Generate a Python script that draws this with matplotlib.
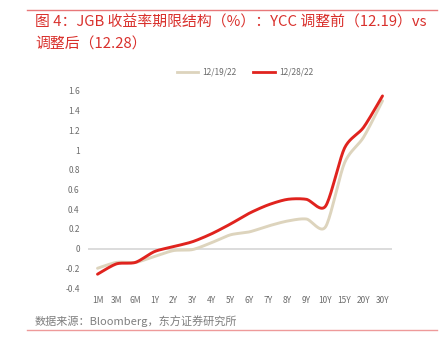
import numpy as np
import matplotlib
matplotlib.use("Agg")
import matplotlib.pyplot as plt
from matplotlib.lines import Line2D

plt.rcParams['font.family'] = ['Noto Sans CJK SC', 'DejaVu Sans']

tenors = ["1M", "3M", "6M", "1Y", "2Y", "3Y", "4Y", "5Y", "6Y", "7Y", "8Y", "9Y", "10Y", "15Y", "20Y", "30Y"]
y_1219 = [-0.20, -0.14, -0.14, -0.08, -0.02, -0.01, 0.06, 0.14, 0.17, 0.23, 0.28, 0.30, 0.22, 0.87, 1.13, 1.50]
y_1228 = [-0.26, -0.155, -0.14, -0.03, 0.02, 0.07, 0.15, 0.25, 0.36, 0.445, 0.50, 0.50, 0.43, 1.02, 1.23, 1.55]
labels = ["12/19/22", "12/28/22"]
yticks = [-0.4, -0.2, 0, 0.2, 0.4, 0.6, 0.8, 1, 1.2, 1.4, 1.6]
ytick_labels = ["-0.4", "-0.2", "0", "0.2", "0.4", "0.6", "0.8", "1", "1.2", "1.4", "1.6"]

title_lines = ["图 4：JGB 收益率期限结构（%）：YCC 调整前（12.19）vs", "调整后（12.28）"]
source = "数据来源：Bloomberg，东方证券研究所"

c_beige = "#ddd4bd"
c_red = "#e0231e"
c_title = "#d9302c"


def smooth(y, n=20):
    # Catmull-Rom (Excel-like smoothing) through the data points
    y = np.asarray(y, dtype=float)
    x = np.arange(len(y), dtype=float)
    P = np.concatenate([[y[0]], y, [y[-1]]])
    X = np.concatenate([[x[0]], x, [x[-1]]])
    xs, ys = [], []
    for i in range(1, len(P) - 2):
        t = np.linspace(0, 1, n, endpoint=False)
        for arr, out in ((X, xs), (P, ys)):
            p0, p1, p2, p3 = arr[i - 1], arr[i], arr[i + 1], arr[i + 2]
            m1 = (p2 - p0) / 2 * 0.8
            m2 = (p3 - p1) / 2 * 0.8
            h00 = 2 * t**3 - 3 * t**2 + 1
            h10 = t**3 - 2 * t**2 + t
            h01 = -2 * t**3 + 3 * t**2
            h11 = t**3 - t**2
            out.extend(h00 * p1 + h10 * m1 + h01 * p2 + h11 * m2)
    xs.append(x[-1]); ys.append(y[-1])
    return np.array(xs), np.array(ys)


fig = plt.figure(figsize=(4.48, 3.44), dpi=100)
ax = fig.add_axes([88 / 448, 1 - 288 / 344, (392 - 88) / 448, (288 - 91) / 344])

ax.axhline(0, color="#d9d9d9", lw=1.3, zorder=1)
xs, ys = smooth(y_1219)
ax.plot(xs, ys, color=c_beige, lw=2.1, solid_capstyle="round", zorder=2)
xs, ys = smooth(y_1228)
ax.plot(xs, ys, color=c_red, lw=2.1, solid_capstyle="round", zorder=3)

ax.set_xlim(-0.5, len(tenors) - 0.5)
ax.set_ylim(-0.4, 1.6)
ax.set_yticks(yticks)
ax.set_yticklabels(ytick_labels)
ax.set_xticks(range(len(tenors)))
ax.set_xticklabels(tenors)
ax.tick_params(axis="both", length=0, labelsize=6, colors="#6b6b6b")
ax.tick_params(axis="y", pad=6)
ax.tick_params(axis="x", pad=6)
for s in ax.spines.values():
    s.set_visible(False)
ax.patch.set_alpha(0)

handles = [Line2D([], [], color=c_beige, lw=2.0), Line2D([], [], color=c_red, lw=2.0)]
fig.legend(handles, labels, loc="center", bbox_to_anchor=(245 / 448, 1 - 72 / 344),
           ncol=2, frameon=False, fontsize=6, handlelength=2.6, columnspacing=2.0,
           handletextpad=0.5, labelcolor="#6b6b6b")

fig.text(35 / 448, 1 - 22.5 / 344, title_lines[0], color=c_title, fontsize=10.7, va="center", ha="left")
fig.text(35 / 448, 1 - 45 / 344, title_lines[1], color=c_title, fontsize=10.7, va="center", ha="left")
fig.text(35 / 448, 1 - 321 / 344, source, color="#7f7f7f", fontsize=8, va="center", ha="left")

fig.add_artist(Line2D([27 / 448, 437 / 448], [1 - 10 / 344, 1 - 10 / 344], color="#e8787a", lw=1.0))
fig.add_artist(Line2D([27 / 448, 437 / 448], [1 - 330 / 344, 1 - 330 / 344], color="#ee9a9a", lw=1.0))

fig.savefig("out.png", dpi=100)
